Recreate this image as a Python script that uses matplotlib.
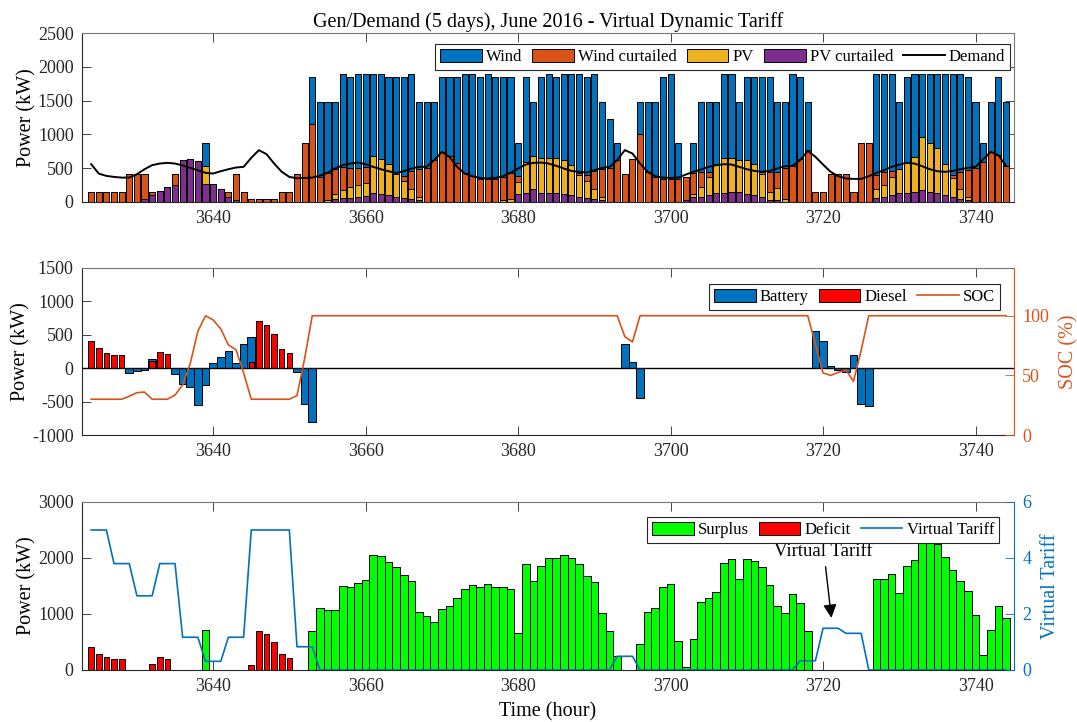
import numpy as np
import matplotlib
matplotlib.use('Agg')
import matplotlib.pyplot as plt
from matplotlib.patches import Patch
from matplotlib.lines import Line2D

plt.rcParams['font.family'] = ['Liberation Serif', 'DejaVu Serif']
plt.rcParams['axes.unicode_minus'] = False

# ---------------- data ----------------
hours = list(range(3624, 3745))
xticks = [3640, 3660, 3680, 3700, 3720, 3740]

pv_curt = [0, 0, 0, 0, 0, 0, 0, 50, 110, 170,
           215, 250, 620, 630, 600, 260, 260, 185, 75, 35,
           0, 0, 0, 0, 0, 0, 0, 0, 0, 0,
           0, 0, 50, 60, 60, 75, 85, 135, 125, 100,
           75, 60, 50, 25, 0, 0, 0, 0, 0, 0,
           0, 0, 0, 0, 0, 0, 125, 135, 185, 135,
           135, 135, 125, 100, 75, 60, 50, 35, 0, 0,
           0, 0, 0, 0, 0, 0, 0, 0, 35, 75,
           75, 100, 135, 135, 150, 150, 125, 100, 75, 35,
           25, 0, 0, 0, 0, 0, 0, 0, 0, 0,
           0, 0, 0, 60, 75, 100, 140, 140, 150, 175,
           150, 135, 100, 75, 50, 25, 0, 0, 0, 0,
           0]
pv = [0, 0, 0, 0, 0, 0, 0, 0, 0, 0,
      0, 0, 0, 0, 0, 270, 0, 0, 0, 0,
      0, 0, 0, 0, 0, 0, 0, 0, 0, 0,
      0, 30, 65, 115, 165, 180, 200, 550, 505, 455,
      345, 250, 135, 50, 0, 0, 0, 0, 0, 0,
      0, 0, 0, 0, 25, 40, 165, 460, 500, 520,
      520, 520, 495, 445, 320, 250, 135, 40, 0, 0,
      0, 0, 0, 0, 0, 0, 0, 0, 0, 50,
      150, 270, 420, 520, 505, 470, 495, 455, 345, 115,
      175, 50, 0, 0, 0, 0, 0, 0, 0, 0,
      0, 0, 0, 125, 180, 270, 355, 440, 510, 790,
      725, 665, 460, 280, 135, 50, 0, 0, 0, 0,
      0]
wind_curt = [150, 150, 150, 150, 150, 415, 415, 365, 40, 0,
             0, 165, 0, 0, 0, 0, 0, 0, 75, 380,
             150, 50, 50, 50, 50, 150, 150, 415, 880, 1150,
             370, 400, 380, 345, 280, 250, 235, 0, 0, 0,
             0, 80, 270, 420, 505, 620, 740, 680, 570, 430,
             380, 345, 345, 345, 345, 390, 95, 0, 0, 0,
             0, 0, 0, 0, 35, 85, 270, 420, 505, 620,
             420, 630, 1000, 445, 370, 345, 345, 345, 335, 305,
             220, 75, 0, 0, 0, 0, 0, 0, 25, 295,
             245, 455, 530, 630, 765, 150, 150, 420, 420, 420,
             150, 875, 875, 210, 190, 85, 0, 0, 0, 0,
             0, 0, 0, 40, 260, 405, 505, 595, 740, 695,
             535]
wind = [0, 0, 0, 0, 0, 0, 0, 0, 0, 0,
        0, 0, 0, 0, 0, 345, 0, 0, 0, 0,
        0, 0, 0, 0, 0, 0, 0, 0, 0, 700,
        1105, 1045, 980, 1380, 1340, 1390, 1380, 1210, 1265, 1290,
        1425, 1455, 1440, 980, 970, 855, 1105, 1165, 1275, 1465,
        1515, 1500, 1550, 1500, 1475, 1415, 490, 1250, 790, 1190,
        1240, 1190, 1275, 1350, 1465, 1450, 1440, 980, 720, 255,
        0, 0, 475, 1030, 1105, 1500, 1550, 530, 0, 445,
        1030, 1030, 920, 1240, 1240, 855, 1225, 1290, 1400, 1400,
        1030, 970, 1365, 1215, 710, 0, 0, 0, 0, 0,
        0, 0, 0, 1500, 1450, 1440, 980, 1265, 1240, 930,
        1020, 1095, 1335, 1500, 1450, 1365, 970, 280, 735, 1150,
        940]
demand = [560, 420, 386, 371, 361, 361, 411, 485, 545, 569,
          579, 569, 540, 505, 470, 431, 421, 455, 485, 510,
          520, 653, 767, 708, 569, 446, 371, 351, 356, 361,
          391, 431, 495, 545, 569, 584, 559, 520, 485, 455,
          431, 455, 495, 520, 520, 619, 742, 668, 520, 421,
          381, 356, 347, 356, 381, 431, 495, 554, 579, 584,
          569, 535, 495, 460, 446, 436, 470, 505, 520, 619,
          767, 718, 569, 446, 381, 361, 356, 361, 406, 446,
          480, 520, 545, 559, 554, 520, 485, 460, 446, 460,
          495, 530, 535, 619, 757, 668, 554, 446, 381, 347,
          342, 342, 381, 431, 470, 520, 554, 579, 569, 530,
          485, 455, 446, 460, 485, 505, 520, 629, 742, 693,
          535]

battery = [0, 0, 0, 0, 0, -70, -45, -20, 140, 0,
           0, -85, -230, -280, -550, -255, 80, 170, 260, 80,
           360, 465, 0, 0, 0, 0, 0, -60, -540, -800,
           0, 0, 0, 0, 0, 0, 0, 0, 0, 0,
           0, 0, 0, 0, 0, 0, 0, 0, 0, 0,
           0, 0, 0, 0, 0, 0, 0, 0, 0, 0,
           0, 0, 0, 0, 0, 0, 0, 0, 0, 0,
           360, 95, -440, 0, 0, 0, 0, 0, 0, 0,
           0, 0, 0, 0, 0, 0, 0, 0, 0, 0,
           0, 0, 0, 0, 0, 560, 410, 40, -30, -55,
           195, -530, -565, 0, 0, 0, 0, 0, 0, 0,
           0, 0, 0, 0, 0, 0, 0, 0, 0, 0,
           0]
diesel = [410, 295, 235, 205, 200, 0, 0, 0, 115, 240,
          208, 0, 0, 0, 0, 0, 0, 0, 0, 0,
          0, 100, 708, 646, 508, 292, 224, 0, 0, 0] + [0] * 91
soc = [30, 30, 30, 30, 30, 32.5, 35.5, 36, 30, 30,
       30, 33.5, 42, 60, 87, 100, 96.5, 89, 75.5, 71.5,
       52, 30, 30, 30, 30, 30, 30, 33, 64, 100,
       100, 100, 100, 100, 100, 100, 100, 100, 100, 100,
       100, 100, 100, 100, 100, 100, 100, 100, 100, 100,
       100, 100, 100, 100, 100, 100, 100, 100, 100, 100,
       100, 100, 100, 100, 100, 100, 100, 100, 100, 100,
       82.5, 78, 100, 100, 100, 100, 100, 100, 100, 100,
       100, 100, 100, 100, 100, 100, 100, 100, 100, 100,
       100, 100, 100, 100, 100, 76, 52, 50, 52.5, 54.5,
       45, 71, 100, 100, 100, 100, 100, 100, 100, 100,
       100, 100, 100, 100, 100, 100, 100, 100, 100, 100,
       100]

surplus = [0, 0, 0, 0, 0, 0, 0, 0, 0, 0,
           0, 0, 0, 0, 0, 715, 0, 0, 0, 0,
           0, 0, 0, 0, 0, 0, 0, 0, 0, 690,
           1105, 1070, 1070, 1500, 1490, 1555, 1610, 2060, 2030, 1935,
           1840, 1695, 1585, 1035, 965, 855, 1095, 1135, 1285, 1445,
           1510, 1490, 1540, 1490, 1490, 1445, 655, 1890, 1595, 1860,
           1995, 1995, 2045, 1995, 1885, 1685, 1570, 1025, 695, 245,
           0, 0, 470, 1035, 1100, 1490, 1530, 520, 55, 545,
           1210, 1290, 1390, 1910, 1975, 1620, 1985, 1945, 1840, 1510,
           1140, 1015, 1365, 1200, 700, 0, 0, 0, 0, 0,
           0, 0, 0, 1630, 1620, 1715, 1375, 1855, 1970, 2300,
           2300, 2250, 2015, 1790, 1595, 1415, 975, 275, 720, 1135,
           935]
deficit = [405, 286, 226, 196, 190, 0, 0, 0, 113, 238,
           202, 0, 0, 0, 0, 0, 0, 0, 0, 0,
           0, 95, 702, 643, 506, 286, 220, 0, 0, 0] + [0] * 91
tariff = [5, 5, 5, 3.8, 3.8, 3.8, 2.65, 2.65, 2.65, 3.8,
          3.8, 3.8, 1.17, 1.17, 1.17, 0.31, 0.31, 0.31, 1.17, 1.17,
          1.17, 5, 5, 5, 5, 5, 5, 0.83, 0.83, 0.83,
          0, 0, 0, 0, 0, 0, 0, 0, 0, 0,
          0, 0, 0, 0, 0, 0, 0, 0, 0, 0,
          0, 0, 0, 0, 0, 0, 0, 0, 0, 0,
          0, 0, 0, 0, 0, 0, 0, 0, 0, 0.49,
          0.49, 0.49, 0, 0, 0, 0, 0, 0, 0, 0,
          0, 0, 0, 0, 0, 0, 0, 0, 0, 0,
          0, 0, 0, 0.33, 0.33, 0.33, 1.49, 1.49, 1.49, 1.31,
          1.31, 1.31, 0, 0, 0, 0, 0, 0, 0, 0,
          0, 0, 0, 0, 0, 0, 0, 0, 0, 0,
          0]

# ---------------- style ----------------
C_BLUE = '#0072BD'
C_ORANGE = '#D95319'
C_YELLOW = '#EDB120'
C_PURPLE = '#7E2F8E'
C_RED = '#FF0000'
C_GREEN = '#00FF00'
DARK = '#262626'
EDGE = 0.7
TICK_FS = 13
LAB_FS = 14.5
LEG_FS = 12

fig = plt.figure(figsize=(10.77, 7.22), dpi=100)
L, W = 82 / 1077, 932 / 1077


def rect(top, bottom):
    return [L, 1 - bottom / 722, W, (bottom - top) / 722]


ax1 = fig.add_axes(rect(33, 202))
ax2 = fig.add_axes(rect(268, 435))
ax3 = fig.add_axes(rect(502, 670))

XLIM = (3622.8, 3745.05)


def base_style(ax, right=True):
    ax.set_xlim(*XLIM)
    ax.set_xticks(xticks)
    ax.tick_params(direction='in', length=6.7, width=0.6, labelsize=TICK_FS,
                   top=True, right=right, colors=DARK, pad=6)
    for s in ax.spines.values():
        s.set_linewidth(0.8)
        s.set_color('#777777')
    ax.spines['left'].set_color(DARK)
    ax.spines['bottom'].set_color(DARK)


def leg_style(leg):
    fr = leg.get_frame()
    fr.set_edgecolor(DARK)
    fr.set_linewidth(0.8)
    fr.set_alpha(1)


# ---------------- top panel ----------------
bottom = np.zeros(len(hours))
for vals, col in [(pv_curt, C_PURPLE), (pv, C_YELLOW), (wind_curt, C_ORANGE), (wind, C_BLUE)]:
    ax1.bar(hours, vals, 0.8, bottom=bottom, color=col, edgecolor='k', linewidth=EDGE, zorder=2)
    bottom = bottom + np.array(vals)
ax1.plot(hours, demand, color='k', lw=1.4, zorder=3)
base_style(ax1)
ax1.set_ylim(0, 2500)
ax1.set_yticks([0, 500, 1000, 1500, 2000, 2500])
ax1.set_ylabel('Power (kW)', fontsize=LAB_FS, labelpad=1)
ax1.set_title('Gen/Demand (5 days), June 2016 - Virtual Dynamic Tariff', fontsize=14.5, pad=4)
h1 = [Patch(facecolor=C_BLUE, edgecolor='k', lw=EDGE),
      Patch(facecolor=C_ORANGE, edgecolor='k', lw=EDGE),
      Patch(facecolor=C_YELLOW, edgecolor='k', lw=EDGE),
      Patch(facecolor=C_PURPLE, edgecolor='k', lw=EDGE),
      Line2D([], [], color='k', lw=1.4)]
leg1 = ax1.legend(h1, ['Wind', 'Wind curtailed', 'PV', 'PV curtailed', 'Demand'], ncol=5,
                  loc='upper right', bbox_to_anchor=(0.996, 0.935), borderaxespad=0,
                  fontsize=LEG_FS, fancybox=False, handlelength=2.5, handleheight=0.85,
                  handletextpad=0.25, columnspacing=0.6, borderpad=0.3)
leg_style(leg1)

# ---------------- middle panel ----------------
ax2.bar(hours, battery, 1.0, color=C_BLUE, edgecolor='k', linewidth=EDGE, zorder=2)
ax2.bar(hours, diesel, 0.72, color=C_RED, edgecolor='k', linewidth=EDGE, zorder=2)
ax2.axhline(0, color='k', lw=1.0, zorder=2.5)
base_style(ax2, right=False)
ax2.spines['right'].set_visible(False)
ax2.set_ylim(-1000, 1500)
ax2.set_yticks([-1000, -500, 0, 500, 1000, 1500])
ax2.set_ylabel('Power (kW)', fontsize=LAB_FS, labelpad=1)

ax2r = ax2.twinx()
ax2r.plot(hours, soc, color=C_ORANGE, lw=1.2)
ax2r.set_xlim(*XLIM)
ax2r.set_ylim(0, 140)
ax2r.set_yticks([0, 50, 100])
ax2r.tick_params(axis='y', direction='in', length=6.7, width=0.6, labelsize=TICK_FS,
                 colors=C_ORANGE, pad=6)
for k in ['left', 'top', 'bottom']:
    ax2r.spines[k].set_visible(False)
ax2r.spines['right'].set_color(C_ORANGE)
ax2r.spines['right'].set_linewidth(0.8)
ax2r.set_ylabel('SOC (%)', fontsize=LAB_FS, color=C_ORANGE, labelpad=7)
h2 = [Patch(facecolor=C_BLUE, edgecolor='k', lw=EDGE),
      Patch(facecolor=C_RED, edgecolor='k', lw=EDGE),
      Line2D([], [], color=C_ORANGE, lw=1.2)]
leg2 = ax2r.legend(h2, ['Battery', 'Diesel', 'SOC'], ncol=3,
                   loc='upper right', bbox_to_anchor=(0.985, 0.904), borderaxespad=0,
                   fontsize=LEG_FS, fancybox=False, handlelength=2.5, handleheight=0.85,
                   handletextpad=0.25, columnspacing=0.6, borderpad=0.3)
leg_style(leg2)

# ---------------- bottom panel ----------------
ax3.bar(hours, surplus, 1.0, color=C_GREEN, edgecolor='k', linewidth=EDGE, zorder=2)
ax3.bar(hours, deficit, 0.75, color=C_RED, edgecolor='k', linewidth=EDGE, zorder=2)
base_style(ax3, right=False)
ax3.spines['right'].set_visible(False)
ax3.set_ylim(0, 3000)
ax3.set_yticks([0, 1000, 2000, 3000])
ax3.set_ylabel('Power (kW)', fontsize=LAB_FS, labelpad=1)
ax3.set_xlabel('Time (hour)', fontsize=LAB_FS, labelpad=5)

ax3r = ax3.twinx()
ax3r.plot(hours, tariff, color=C_BLUE, lw=1.2)
ax3r.set_xlim(*XLIM)
ax3r.set_ylim(0, 6)
ax3r.set_yticks([0, 2, 4, 6])
ax3r.tick_params(axis='y', direction='in', length=6.7, width=0.6, labelsize=TICK_FS,
                 colors=C_BLUE, pad=6)
for k in ['left', 'top', 'bottom']:
    ax3r.spines[k].set_visible(False)
ax3r.spines['right'].set_color(C_BLUE)
ax3r.spines['right'].set_linewidth(0.8)
ax3r.set_ylabel('Virtual Tariff', fontsize=LAB_FS, color=C_BLUE, labelpad=7)
h3 = [Patch(facecolor=C_GREEN, edgecolor='k', lw=EDGE),
      Patch(facecolor=C_RED, edgecolor='k', lw=EDGE),
      Line2D([], [], color=C_BLUE, lw=1.2)]
leg3 = ax3r.legend(h3, ['Surplus', 'Deficit', 'Virtual Tariff'], ncol=3,
                   loc='upper right', bbox_to_anchor=(0.984, 0.911), borderaxespad=0,
                   fontsize=LEG_FS, fancybox=False, handlelength=2.5, handleheight=0.85,
                   handletextpad=0.25, columnspacing=0.6, borderpad=0.3)
leg_style(leg3)
ax3r.annotate('Virtual Tariff', xy=(3721.1, 1.86), xytext=(3720.1, 4.24),
              ha='center', va='center', fontsize=13.5,
              arrowprops=dict(arrowstyle='-|>', color='k', lw=1.0, mutation_scale=20,
                              shrinkA=3, shrinkB=0))

fig.savefig('out.png', dpi=100)
